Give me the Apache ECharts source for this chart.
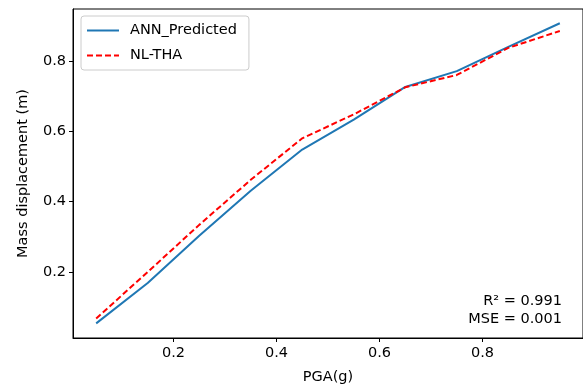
<!DOCTYPE html>
<html>
<head>
<meta charset="utf-8">
<script src="https://cdn.jsdelivr.net/npm/echarts@6/dist/echarts.min.js"></script>
<style>html,body{margin:0;padding:0;background:#fff;}#c{width:583px;height:390px;}</style>
</head>
<body>
<div id="c"></div>
<script>
const pga = [0.05, 0.15, 0.25, 0.35, 0.45, 0.55, 0.65, 0.75, 0.85, 0.95];
const annPredicted = [0.054, 0.169, 0.303, 0.431, 0.548, 0.633, 0.726, 0.771, 0.840, 0.907];
const nlTha = [0.068, 0.200, 0.334, 0.462, 0.580, 0.648, 0.725, 0.760, 0.837, 0.885];
const xTicks = [0.2, 0.4, 0.6, 0.8];
const yTicks = [0.2, 0.4, 0.6, 0.8];
const annotations = ['R\u00b2 = 0.991', 'MSE = 0.001'];

const FONT = 'DejaVu Sans';
const FS = 14.5;
const chart = echarts.init(document.getElementById('c'), null, {renderer: 'canvas'});
chart.setOption({
  animation: false,
  backgroundColor: '#fff',
  textStyle: {fontFamily: FONT},
  grid: {left: 73, top: 9, right: -3, bottom: 48, show: true, borderColor: '#000', borderWidth: 1, backgroundColor: 'transparent'},
  xAxis: {
    type: 'value', min: 0.005, max: 0.995,
    name: 'PGA(g)', nameLocation: 'middle', nameGap: 32,
    nameTextStyle: {fontFamily: FONT, fontSize: FS, color: '#000'},
    axisLine: {show: true, lineStyle: {color: '#000', width: 1}},
    axisTick: {show: true, length: 4, inside: false, customValues: xTicks, lineStyle: {color: '#000'}},
    axisLabel: {customValues: xTicks, fontFamily: FONT, fontSize: FS, color: '#000', margin: 8, formatter: v => v.toFixed(1)},
    splitLine: {show: false}
  },
  yAxis: {
    type: 'value', min: 0.0125, max: 0.9475,
    name: 'Mass displacement (m)', nameLocation: 'middle', nameGap: 42, nameRotate: 90,
    nameTextStyle: {fontFamily: FONT, fontSize: FS, color: '#000'},
    axisLine: {show: true, lineStyle: {color: '#000', width: 1}},
    axisTick: {show: true, length: 4, inside: false, customValues: yTicks, lineStyle: {color: '#000'}},
    axisLabel: {customValues: yTicks, fontFamily: FONT, fontSize: FS, color: '#000', margin: 7, formatter: v => v.toFixed(1)},
    splitLine: {show: false}
  },
  legend: {
    left: 81, top: 16,
    orient: 'vertical',
    itemWidth: 32, itemHeight: 10, itemGap: 10,
    padding: [7, 12, 7, 5],
    borderColor: '#ccc', borderWidth: 1, borderRadius: 3,
    backgroundColor: 'rgba(255,255,255,0.8)',
    itemStyle: {opacity: 0},
    textStyle: {fontFamily: FONT, fontSize: FS, color: '#000', padding: [0, 0, 0, 6]},
    data: [{name: 'ANN_Predicted'}, {name: 'NL-THA'}]
  },
  series: [
    {
      name: 'ANN_Predicted', type: 'line', symbol: 'none', showSymbol: false,
      data: pga.map((x, i) => [x, annPredicted[i]]),
      lineStyle: {color: '#1f77b4', width: 2},
      itemStyle: {color: '#1f77b4'},
      z: 2
    },
    {
      name: 'NL-THA', type: 'line', symbol: 'none', showSymbol: false,
      data: pga.map((x, i) => [x, nlTha[i]]),
      lineStyle: {color: '#ff0000', width: 2, type: [6, 3]},
      itemStyle: {color: '#ff0000'},
      z: 3
    }
  ],
  graphic: [
    {type: 'text', right: 21, top: 294, style: {text: annotations[0], font: FS + 'px "DejaVu Sans"', fill: '#000', textAlign: 'right'}},
    {type: 'text', right: 21, top: 312, style: {text: annotations[1], font: FS + 'px "DejaVu Sans"', fill: '#000', textAlign: 'right'}}
  ]
});
</script>
</body>
</html>
